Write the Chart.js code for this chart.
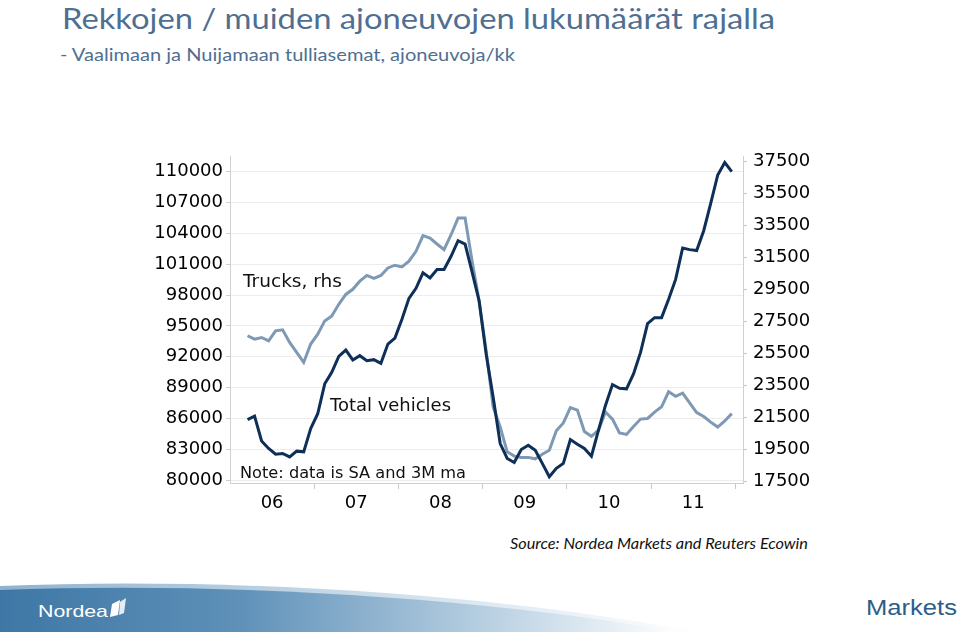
<!DOCTYPE html>
<html><head><meta charset="utf-8">
<script src="https://cdn.jsdelivr.net/npm/chart.js@4/dist/chart.umd.min.js"></script>
<style>
html,body{margin:0;padding:0;background:#fff;width:960px;height:632px;overflow:hidden;position:relative;}
.t{position:absolute;white-space:nowrap;transform-origin:0 50%;line-height:1;}
#wrap{position:absolute;left:0;top:140px;width:960px;height:380px;}
</style></head><body>
<div class="t" data-w="713" style="left:62px;top:3px;font-family:Lato;font-size:29px;color:#4f6f92">Rekkojen / muiden ajoneuvojen lukumäärät rajalla</div>
<div class="t" data-w="455" style="left:60px;top:45px;font-family:Lato;font-size:18px;color:#4f6f92">- Vaalimaan ja Nuijamaan tulliasemat, ajoneuvoja/kk</div>
<div id="wrap"><canvas id="c" width="960" height="380"></canvas></div>
<div class="t" data-w="99" style="left:243px;top:272px;font-family:'DejaVu Sans';font-size:18px;color:#111">Trucks, rhs</div>
<div class="t" data-w="121" style="left:330px;top:396px;font-family:'DejaVu Sans';font-size:18px;color:#111">Total vehicles</div>
<div class="t" data-w="226" style="left:240px;top:466px;font-family:'DejaVu Sans';font-size:15px;color:#111">Note: data is SA and 3M ma</div>
<div class="t" data-w="298" style="left:510px;top:536px;font-family:Lato;font-size:15px;font-style:italic;color:#111">Source: Nordea Markets and Reuters Ecowin</div>
<svg style="position:absolute;left:0;top:560px" width="960" height="72">
<defs><linearGradient id="g" x1="0" x2="1" y1="0" y2="0">
<stop offset="0" stop-color="#3e77a5"/><stop offset="0.35" stop-color="#5e90b8"/><stop offset="0.7" stop-color="#b4cde0"/><stop offset="1" stop-color="#ffffff"/></linearGradient>
<linearGradient id="h" x1="0" x2="1" y1="0" y2="0">
<stop offset="0" stop-color="#8fb2cf"/><stop offset="0.6" stop-color="#d3e2ee"/><stop offset="1" stop-color="#ffffff"/></linearGradient></defs>
<path d="M0,26 C220,17 480,32 700,72 L0,72 Z" fill="url(#h)"/>
<path d="M0,30 C220,22 470,36 680,72 L0,72 Z" fill="url(#g)"/>
<polygon points="112,44 120,40 118,55 110,57" fill="#fff"/>
<polygon points="120,42 126,38 124,53 119,55" fill="#fff" opacity="0.85"/>
</svg>
<div class="t" data-w="70" style="left:38px;top:603px;font-family:'Liberation Sans';font-size:17px;color:#fff">Nordea</div>
<div class="t" data-w="91" style="left:866px;top:597px;font-family:'Liberation Sans';font-size:22px;color:#2b5d8a">Markets</div>
<script>
const months = [];
for (let y = 2006; y <= 2011; y++) for (let m = 1; m <= 12; m++) months.push(y + '-' + String(m).padStart(2, '0'));
const dataMonths = months.slice(2); // 2006-03 .. 2011-12
const totalVehicles = [
 85870, 86220, 83800, 83070, 82520, 82580, 82250, 82810, 82740, 85000,
 86450, 89360, 90480, 92030, 92650, 91680, 92100, 91610, 91710, 91350,
 93230, 93810, 95650, 97680, 98650, 100160, 99670, 100490, 100490, 101770,
 103290, 102960, 100240, 97420, 92260, 88060, 83550, 82100, 81710, 82970,
 83390, 82900, 81620, 80320, 81130, 81620, 83940, 83480, 83070, 82320,
 84840, 87260, 89290, 88930, 88870, 90330, 92420, 95220, 95800, 95800,
 97580, 99520, 102580, 102420, 102330, 104260, 106930, 109680, 110900, 110000];
const trucks = [
 26600, 26390, 26490, 26280, 26910, 26970, 26180, 25560, 24930, 26080,
 26700, 27530, 27840, 28570, 29190, 29510, 30020, 30380, 30190, 30380,
 30850, 31020, 30910, 31270, 31890, 32870, 32720, 32350, 32000, 32930,
 33970, 33970, 31270, 28780, 25660, 22130, 20880, 19330, 19060, 18980,
 18980, 18890, 19180, 19430, 20650, 21140, 22100, 21940, 20600, 20300,
 20680, 21820, 21380, 20510, 20420, 20910, 21380, 21420, 21820, 22150,
 23090, 22810, 23000, 22390, 21790, 21540, 21190, 20880, 21260, 21720];
const yearLabels = ['06', '07', '08', '09', '10', '11'];
const leftTicks = [80000, 83000, 86000, 89000, 92000, 95000, 98000, 101000, 104000, 107000, 110000];
const rightTicks = [17500, 19500, 21500, 23500, 25500, 27500, 29500, 31500, 33500, 35500, 37500];

function monthPos(s) { const [y, m] = s.split('-').map(Number); return (y - 2006) * 12 + (m - 1) + 0.5; }
const toPts = arr => arr.map((v, i) => ({ x: monthPos(dataMonths[i]), y: v }));
const tickFont = { family: 'DejaVu Sans', size: 18 };

new Chart(document.getElementById('c'), {
  type: 'line',
  data: { datasets: [
    { label: 'Total vehicles', data: toPts(totalVehicles), yAxisID: 'yL', borderColor: '#0e2f58', borderWidth: 3 },
    { label: 'Trucks, rhs', data: toPts(trucks), yAxisID: 'yR', borderColor: '#7e99b4', borderWidth: 3 }
  ]},
  options: {
    responsive: false, animation: false, devicePixelRatio: 1,
    layout: { padding: { top: 15, left: 0, right: 0, bottom: 0 } },
    plugins: { legend: { display: false }, tooltip: { enabled: false } },
    elements: { point: { radius: 0 }, line: { tension: 0, fill: false } },
    scales: {
      x: { type: 'linear', position: 'bottom', min: 0, max: 73.1,
        afterBuildTicks: s => { s.ticks = [0, 6, 12, 18, 24, 30, 36, 42, 48, 54, 60, 66, 72].map(v => ({ value: v })); },
        afterFit: s => { s.height = 37; },
        ticks: { autoSkip: false, maxRotation: 0, padding: 4, color: '#000', font: tickFont,
          callback: v => (v % 12 === 6 ? yearLabels[(v - 6) / 12] : '') },
        grid: { drawOnChartArea: false, tickLength: 6,
          tickColor: c => (c.tick && c.tick.value % 12 === 0 && c.tick.value > 0 ? '#c8c8c8' : 'rgba(0,0,0,0)') },
        border: { color: '#d0d0d0', width: 1 } },
      yL: { type: 'linear', position: 'left', min: 79709.7, max: 111451.6,
        afterBuildTicks: s => { s.ticks = leftTicks.map(v => ({ value: v })); },
        afterFit: s => { s.width = 230; },
        ticks: { padding: 3, color: '#000', font: tickFont, callback: v => String(v) },
        grid: { color: '#ececec', tickLength: 4, tickColor: '#d0d0d0' },
        border: { color: '#d0d0d0', width: 1 } },
      yR: { type: 'linear', position: 'right', min: 17375.4, max: 37811.5,
        afterBuildTicks: s => { s.ticks = rightTicks.map(v => ({ value: v })); },
        afterFit: s => { s.width = 217; },
        ticks: { padding: 6, color: '#000', font: tickFont, callback: v => String(v) },
        grid: { drawOnChartArea: false, tickLength: 4, tickColor: '#c8c8c8' },
        border: { color: '#d0d0d0', width: 1 } }
    }
  }
});

document.querySelectorAll('.t[data-w]').forEach(el => {
  const w = el.getBoundingClientRect().width;
  const target = +el.dataset.w;
  if (w > 0) el.style.transform = 'scaleX(' + (target / w) + ')';
});
</script>
</body></html>
